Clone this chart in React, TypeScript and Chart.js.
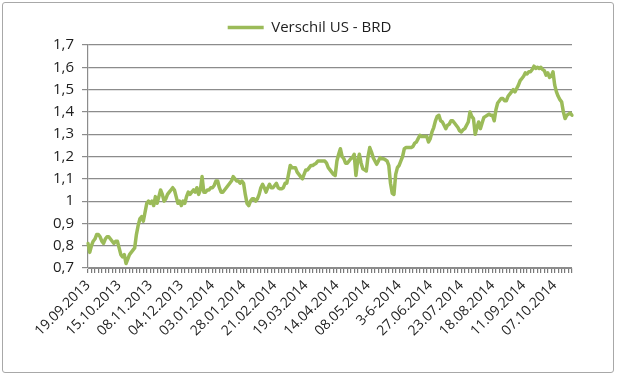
import React, { useEffect, useRef } from "react";
import { Chart, registerables } from "chart.js";

Chart.register(...registerables);

const seriesName = "Verschil US - BRD";

const tickLabels = [
  "19.09.2013", "15.10.2013", "08.11.2013", "04.12.2013", "03.01.2014", "28.01.2014",
  "21.02.2014", "19.03.2014", "14.04.2014", "08.05.2014", "3-6-2014", "27.06.2014",
  "23.07.2014", "18.08.2014", "11.09.2014", "07.10.2014",
];

const values = [
  0.81, 0.77, 0.80, 0.82, 0.83, 0.85, 0.85, 0.84, 0.82, 0.81,
  0.83, 0.84, 0.84, 0.83, 0.82, 0.81, 0.82, 0.82, 0.79, 0.76,
  0.75, 0.76, 0.72, 0.74, 0.76, 0.77, 0.78, 0.79, 0.85, 0.89,
  0.92, 0.93, 0.91, 0.95, 0.99, 1.00, 0.99, 1.00, 0.98, 1.02,
  0.99, 1.02, 1.05, 1.03, 1.00, 1.01, 1.03, 1.04, 1.05, 1.06,
  1.05, 1.02, 0.99, 1.00, 0.98, 1.00, 0.99, 1.02, 1.04, 1.03,
  1.04, 1.05, 1.04, 1.06, 1.03, 1.05, 1.11, 1.04, 1.04, 1.05,
  1.05, 1.06, 1.06, 1.07, 1.09, 1.09, 1.06, 1.04, 1.04, 1.05,
  1.06, 1.07, 1.08, 1.09, 1.11, 1.10, 1.09, 1.09, 1.08, 1.09,
  1.08, 1.03, 0.99, 0.98, 1.00, 1.01, 1.01, 1.00, 1.01, 1.03,
  1.06, 1.075, 1.06, 1.04, 1.06, 1.075, 1.06, 1.06, 1.07, 1.08,
  1.06, 1.055, 1.055, 1.06, 1.08, 1.08, 1.12, 1.16, 1.15, 1.15,
  1.15, 1.13, 1.12, 1.11, 1.10, 1.12, 1.14, 1.14, 1.15, 1.16,
  1.16, 1.165, 1.17, 1.18, 1.18, 1.18, 1.18, 1.18, 1.17, 1.15,
  1.14, 1.13, 1.12, 1.115, 1.18, 1.21, 1.235, 1.20, 1.19, 1.17,
  1.17, 1.18, 1.19, 1.195, 1.21, 1.115, 1.18, 1.21, 1.17, 1.145,
  1.14, 1.135, 1.20, 1.24, 1.22, 1.195, 1.18, 1.165, 1.18, 1.195,
  1.19, 1.19, 1.185, 1.18, 1.16, 1.08, 1.035, 1.03, 1.12, 1.15,
  1.16, 1.18, 1.20, 1.235, 1.24, 1.24, 1.24, 1.24, 1.245, 1.26,
  1.265, 1.28, 1.295, 1.29, 1.29, 1.29, 1.29, 1.265, 1.28, 1.31,
  1.33, 1.36, 1.38, 1.385, 1.36, 1.355, 1.34, 1.325, 1.34, 1.345,
  1.36, 1.36, 1.35, 1.34, 1.33, 1.315, 1.31, 1.32, 1.325, 1.34,
  1.355, 1.40, 1.38, 1.37, 1.30, 1.33, 1.355, 1.325, 1.35, 1.375,
  1.38, 1.385, 1.39, 1.385, 1.385, 1.36, 1.41, 1.44, 1.45, 1.46,
  1.46, 1.45, 1.45, 1.47, 1.48, 1.49, 1.50, 1.49, 1.505, 1.52,
  1.54, 1.55, 1.56, 1.575, 1.57, 1.58, 1.58, 1.59, 1.605, 1.595,
  1.60, 1.595, 1.60, 1.59, 1.585, 1.565, 1.575, 1.555, 1.56, 1.58,
  1.52, 1.49, 1.47, 1.455, 1.445, 1.40, 1.37, 1.385, 1.39, 1.395,
  1.385,
];

const labelEvery = 18;
const categories = values.map((_, i) => String(i));

const FONT = "'Open Sans', 'Noto Sans', sans-serif";
const GRID = "#8c8c8c";
const TICK = "#7a7a7a";
const LINE = "#9bbb59";
const TEXT = "#1e1e1e";

export default function App() {
  const ref = useRef<HTMLCanvasElement | null>(null);

  useEffect(() => {
    if (!ref.current) return;
    const chart = new Chart(ref.current, {
      type: "line",
      data: {
        labels: categories,
        datasets: [
          {
            label: seriesName,
            data: values,
            borderColor: LINE,
            backgroundColor: LINE,
            borderWidth: 3.5,
            pointRadius: 0,
            tension: 0,
            borderJoinStyle: "round",
            borderCapStyle: "round",
          },
        ],
      },
      options: {
        animation: false,
        responsive: false,
        maintainAspectRatio: false,
        layout: { padding: { left: 0, right: 0, top: 10, bottom: 0 } },
        plugins: {
          tooltip: { enabled: false },
          legend: {
            display: true,
            position: "top",
            labels: {
              usePointStyle: true,
              pointStyle: "line",
              pointStyleWidth: 36,
              color: TEXT,
              font: { family: FONT, size: 15 },
              padding: 10,
            },
          },
        },
        scales: {
          x: {
            type: "category",
            offset: false,
            grid: {
              drawOnChartArea: false,
              drawTicks: true,
              tickLength: 5,
              color: (ctx: any) => (ctx.index % 2 === 0 ? TICK : "rgba(0,0,0,0)"),
              lineWidth: 1.2,
            },
            border: { display: true, color: GRID, width: 1 },
            ticks: {
              autoSkip: false,
              minRotation: 45,
              maxRotation: 45,
              padding: 4,
              color: TEXT,
              font: { family: FONT, size: 14 },
              callback: (_v: any, index: number) =>
                index % labelEvery === 0 ? tickLabels[index / labelEvery] ?? "" : "",
            },
            afterFit: (scale: any) => {
              scale.height = 377 - 268;
            },
          },
          y: {
            min: 0.7,
            max: 1.7,
            grid: {
              color: GRID,
              lineWidth: 1.2,
              tickLength: 6,
              drawTicks: true,
            },
            border: { display: true, color: GRID, width: 1.2 },
            ticks: {
              stepSize: 0.1,
              padding: 8,
              color: TEXT,
              font: { family: FONT, size: 15 },
              callback: (v: any) => String(Math.round(Number(v) * 10) / 10).replace(".", ","),
            },
            afterFit: (scale: any) => {
              scale.width = 88;
            },
          },
          spacer: {
            type: "linear",
            position: "right",
            display: true,
            grid: { display: false, drawTicks: false },
            border: { display: false },
            ticks: { display: false },
            afterFit: (scale: any) => {
              scale.width = 47;
            },
          },
        },
      },
    });
    return () => chart.destroy();
  }, []);

  return (
    <div
      style={{
        position: "fixed",
        left: 0,
        top: 0,
        width: 619,
        height: 377,
        background: "#fff",
      }}
    >
      <div
        style={{
          position: "absolute",
          left: 2,
          top: 2,
          width: 612,
          height: 371,
          border: "1.5px solid #a8a8a8",
          borderRadius: 3,
          boxSizing: "border-box",
        }}
      />
      <canvas
        ref={ref}
        width={619}
        height={377}
        style={{ position: "absolute", left: 0, top: 0, width: 619, height: 377 }}
      />
    </div>
  );
}
